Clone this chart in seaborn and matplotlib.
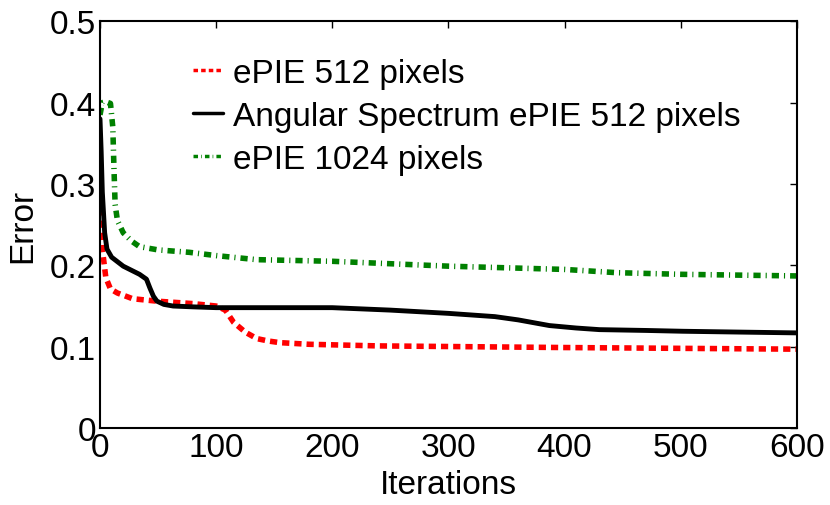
import matplotlib
matplotlib.use("Agg")
import matplotlib.pyplot as plt
import seaborn as sns
import pandas as pd

# Error curves
red_iter = [0, 2, 5, 9, 15, 28, 49, 80, 100, 108, 115, 125, 135, 145, 155, 180, 240, 320, 400, 500, 600]
red_err = [0.27, 0.22, 0.185, 0.171, 0.166, 0.159, 0.156, 0.153, 0.150, 0.145, 0.130, 0.118, 0.110,
           0.107, 0.105, 0.103, 0.101, 0.100, 0.099, 0.098, 0.097]

black_iter = [0, 1, 2, 4, 6, 10, 20, 34, 40, 43, 46, 49, 55, 63, 80, 100, 150, 200, 250, 300, 340,
              360, 387, 410, 430, 470, 502, 550, 600]
black_err = [0.38, 0.34, 0.29, 0.24, 0.22, 0.21, 0.199, 0.189, 0.183, 0.172, 0.162, 0.156, 0.152,
             0.150, 0.149, 0.148, 0.148, 0.148, 0.145, 0.141, 0.137, 0.133, 0.126, 0.123, 0.121,
             0.120, 0.119, 0.118, 0.117]

green_iter = [0, 2, 5, 9, 11, 12, 13, 15, 20, 27, 34, 50, 77, 100, 135, 200, 300, 400, 445, 500, 600]
green_err = [0.385, 0.40, 0.401, 0.399, 0.37, 0.32, 0.275, 0.255, 0.24, 0.23, 0.223, 0.219, 0.216,
             0.212, 0.207, 0.205, 0.199, 0.195, 0.191, 0.189, 0.187]

labels = ["ePIE 512 pixels", "Angular Spectrum ePIE 512 pixels", "ePIE 1024 pixels"]

sns.set_style("white")
plt.rcParams['font.family'] = ['Liberation Sans', 'DejaVu Sans']
plt.rcParams['text.color'] = 'black'
plt.rcParams['axes.labelcolor'] = 'black'
plt.rcParams['xtick.color'] = 'black'
plt.rcParams['ytick.color'] = 'black'

fig = plt.figure(figsize=(8.3, 5.06), dpi=100)
ax = fig.add_axes([0.1205, 0.152, 0.8395, 0.804])

df_red = pd.DataFrame({"Iterations": red_iter, "Error": red_err})
df_black = pd.DataFrame({"Iterations": black_iter, "Error": black_err})
df_green = pd.DataFrame({"Iterations": green_iter, "Error": green_err})

sns.lineplot(data=df_red, x="Iterations", y="Error", ax=ax, color="red", lw=4,
             linestyle=(0, (1.3, 0.9)), label=labels[0])
sns.lineplot(data=df_black, x="Iterations", y="Error", ax=ax, color="black", lw=3.5,
             label=labels[1])
sns.lineplot(data=df_green, x="Iterations", y="Error", ax=ax, color="green", lw=4,
             linestyle=(0, (1.3, 0.9, 0.2, 0.9)), label=labels[2])

ax.set_xlim(0, 600)
ax.set_ylim(0, 0.5)
ax.set_xticks([0, 100, 200, 300, 400, 500, 600])
ax.set_yticks([0, 0.1, 0.2, 0.3, 0.4, 0.5])
ax.set_yticklabels(["0", "0.1", "0.2", "0.3", "0.4", "0.5"])
ax.tick_params(direction="in", top=True, right=True, labelsize=24, length=5, width=1, pad=3)
for s in ax.spines.values():
    s.set_linewidth(1.5)
    s.set_color("black")
ax.set_xlabel("Iterations", fontsize=24, labelpad=4)
ax.set_ylabel("Error", fontsize=24, labelpad=8)

leg = ax.legend(loc="upper left", bbox_to_anchor=(0.133, 0.91), frameon=False, fontsize=24,
                handlelength=0.9, handletextpad=0.3, labelspacing=0.36, borderaxespad=0, borderpad=0)
for h in leg.get_lines():
    h.set_linewidth(2.5)

fig.savefig("out.png", dpi=100)
